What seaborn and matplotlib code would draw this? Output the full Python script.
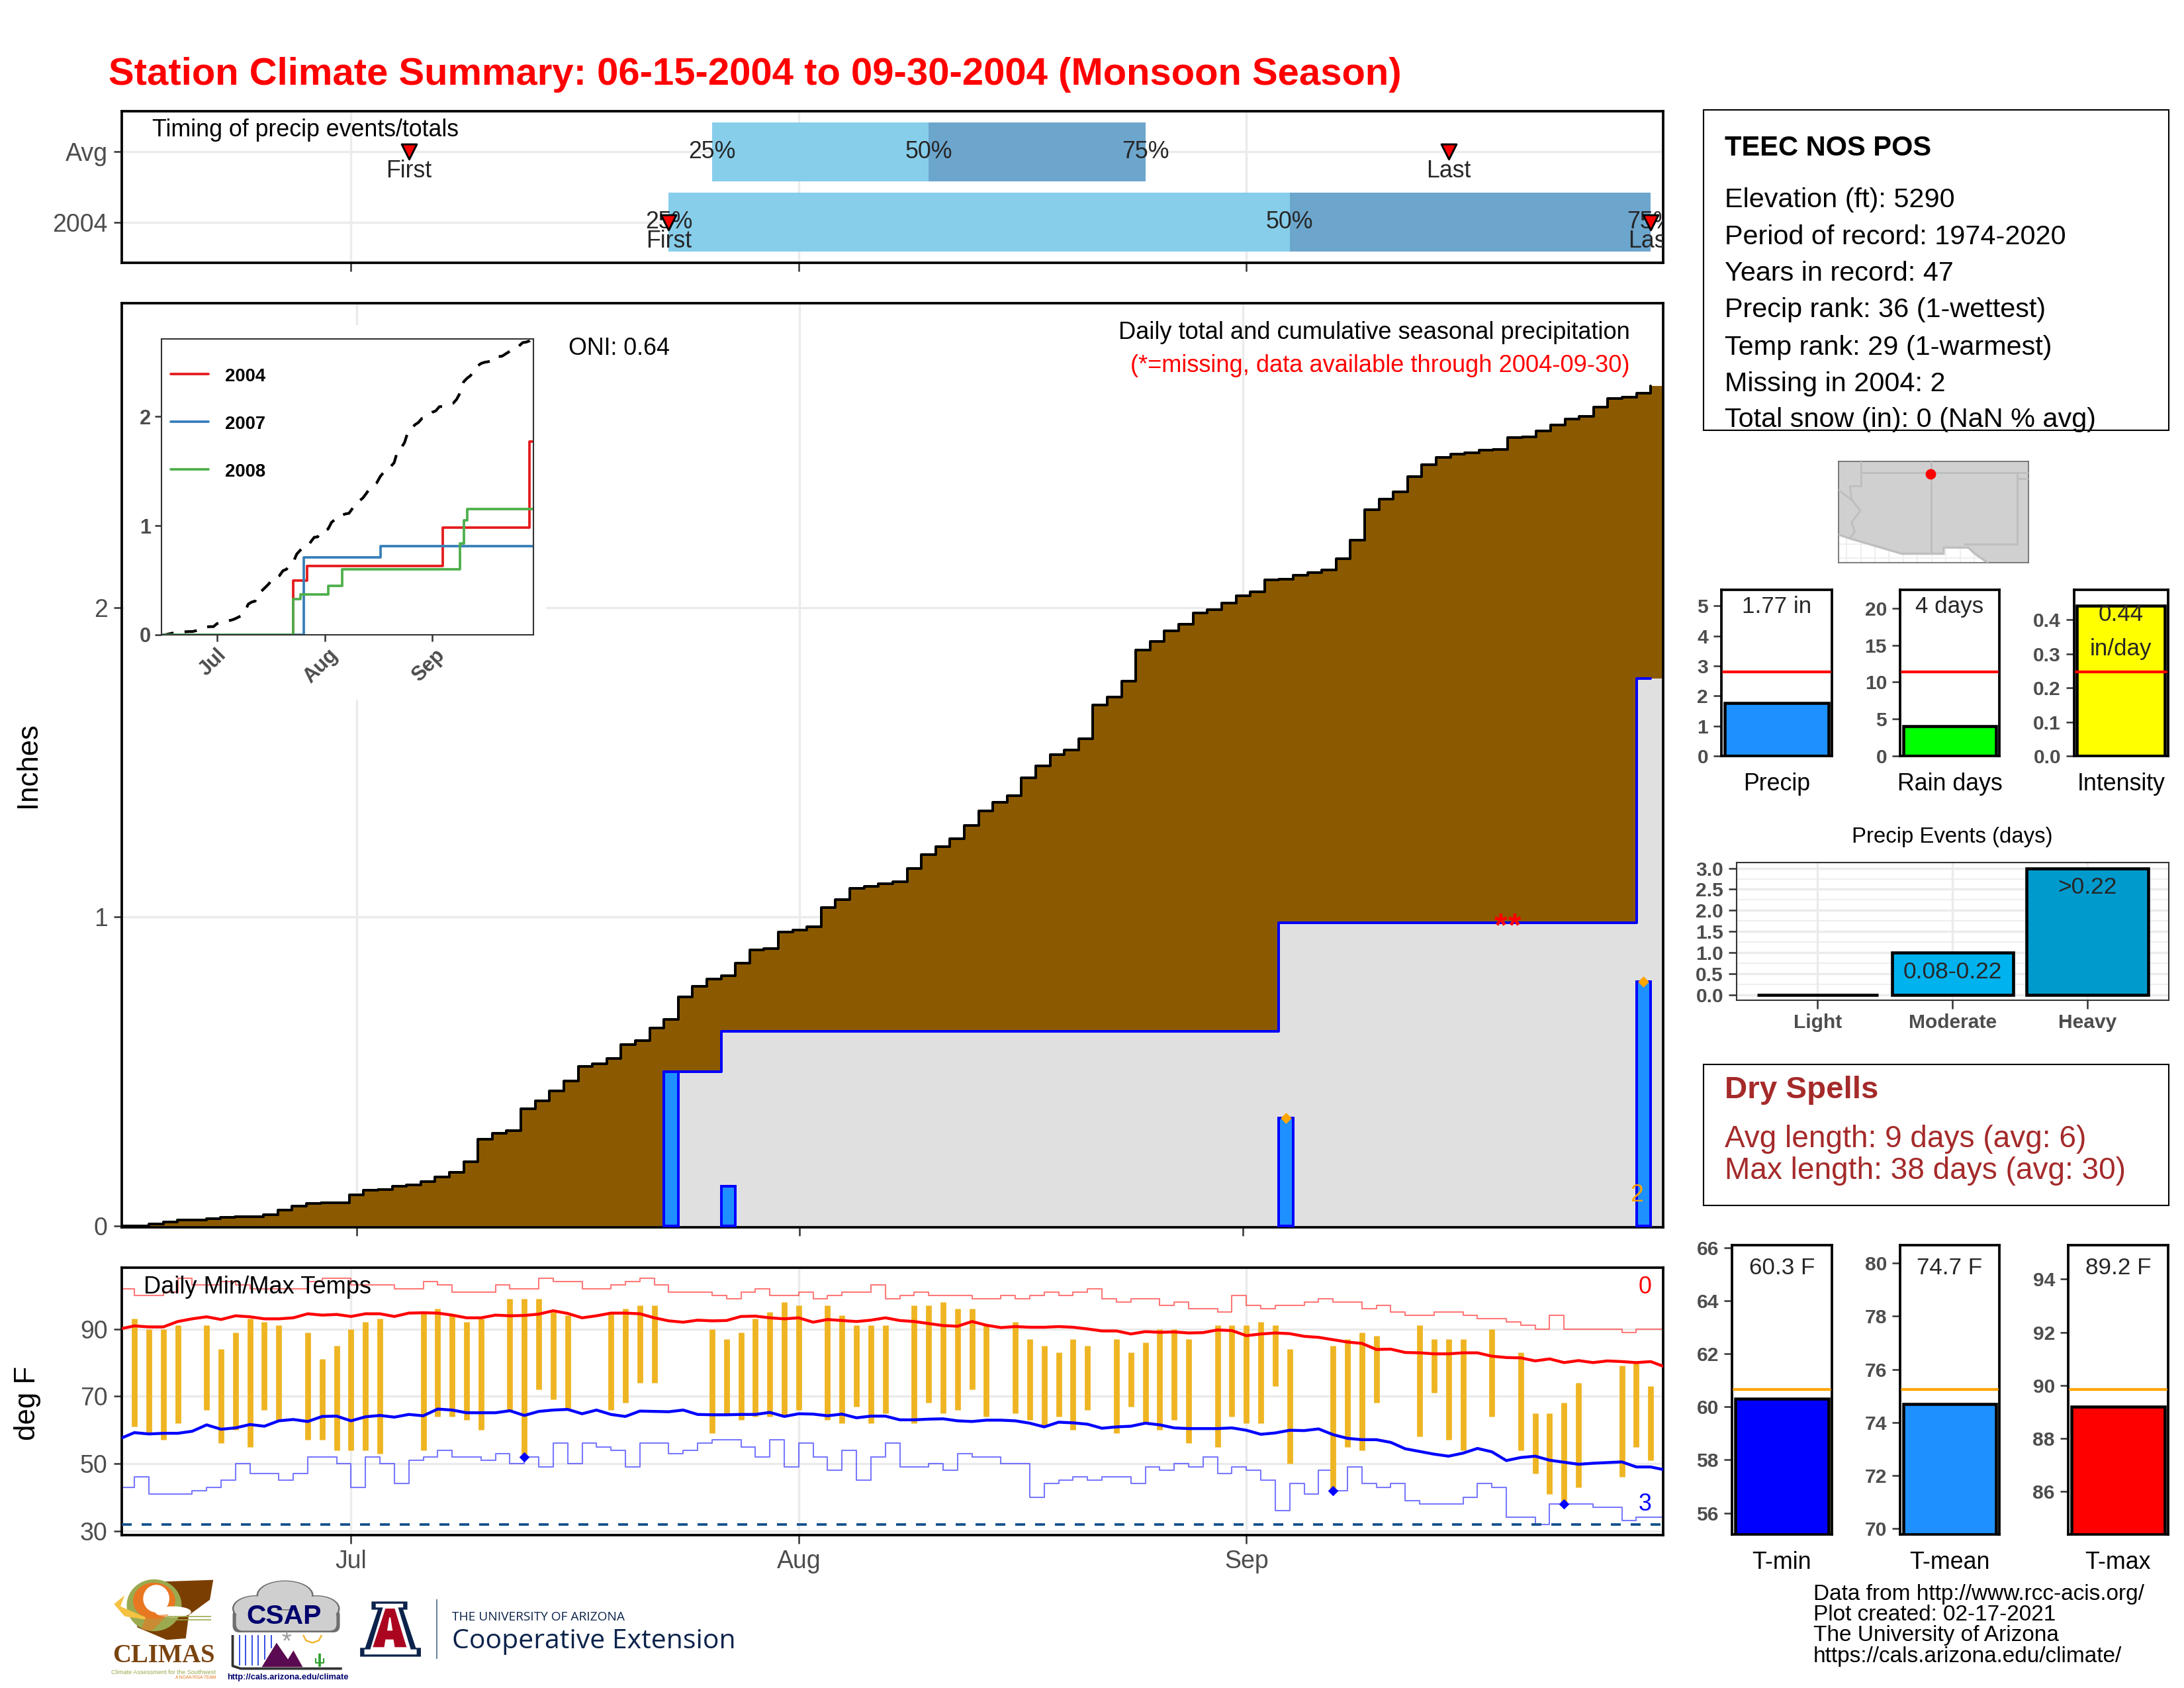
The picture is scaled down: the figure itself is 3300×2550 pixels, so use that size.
import numpy as np
import matplotlib
matplotlib.use('Agg')
import matplotlib.pyplot as plt
from matplotlib.patches import Ellipse, Polygon, Rectangle, FancyBboxPatch
from matplotlib.transforms import ScaledTranslation
import seaborn as sns

NA = float('nan')

# ---- season data (Jun 15 to Sep 30 2004, one value per day)
month_ticks = [16, 47, 78]
month_labels = ['Jul', 'Aug', 'Sep']

avg_cum_precip = [0, 0, .007, .014, .02, .021, .025, .028, .03, .03, .038, .051, .065, .073, .075, .075,
                  .102, .116, .118, .13, .133, .144, .159, .175, .208, .281, .30, .309, .38, .406, .437,
                  .469, .517, .525, .542, .587, .60, .641, .669, .741, .775, .80, .809, .851, .893, .897,
                  .951, .958, .969, 1.031, 1.056, 1.093, 1.098, 1.107, 1.113, 1.157, 1.201, 1.227, 1.253,
                  1.295, 1.342, 1.37, 1.392, 1.45, 1.488, 1.525, 1.54, 1.576, 1.686, 1.71, 1.761, 1.862,
                  1.89, 1.924, 1.945, 1.982, 1.993, 2.015, 2.039, 2.051, 2.089, 2.092, 2.104, 2.113, 2.121,
                  2.157, 2.217, 2.317, 2.35, 2.374, 2.424, 2.462, 2.485, 2.496, 2.501, 2.509, 2.51, 2.549,
                  2.551, 2.571, 2.591, 2.609, 2.619, 2.647, 2.676, 2.681, 2.692, 2.716]

rain_days = [38, 42, 81, 106]
rain_amounts = [.50, .13, .35, .79]
record_rain_days = [81, 106]
missing_days = [96, 97]

avg_tmax = [90.0, 90.9, 90.6, 90.6, 92.2, 93.0, 93.6, 92.8, 93.9, 93.6, 93.0, 93.0, 93.3, 94.5, 94.1, 94.3, 93.7, 94.5,
            94.5, 93.7, 94.7, 94.8, 94.7, 94.1, 93.3, 93.3, 94.1, 93.9, 94.0, 94.4, 95.4, 94.6, 93.3, 93.9, 94.7, 94.7,
            94.5, 93.3, 92.4, 92.0, 92.6, 92.4, 92.5, 93.7, 93.8, 93.3, 93.0, 93.3, 92.0, 92.8, 92.5, 92.2, 92.6, 93.3,
            92.5, 92.2, 91.6, 91.0, 90.8, 92.2, 91.1, 90.4, 90.7, 90.5, 90.5, 90.7, 90.5, 90.0, 89.4, 89.4, 88.5, 89.2,
            89.0, 89.1, 88.8, 88.9, 89.7, 89.5, 88.0, 88.5, 88.8, 88.6, 87.8, 87.5, 86.8, 86.1, 85.7, 83.9, 84.0, 83.0,
            82.9, 82.6, 82.6, 82.9, 82.9, 81.9, 81.5, 81.4, 80.5, 81.1, 80.0, 80.6, 80.0, 80.5, 80.3, 80.0, 80.3, 78.7]

avg_tmin = [57.4, 59.2, 58.8, 59.0, 59.0, 59.6, 61.5, 60.2, 60.6, 61.6, 61.1, 62.7, 63.1, 62.5, 64.0, 64.1, 62.7, 63.9,
            64.3, 63.8, 64.6, 64.2, 66.2, 65.9, 65.1, 65.1, 65.1, 65.7, 64.3, 65.5, 65.9, 66.1, 64.8, 65.9, 64.6, 64.0,
            65.6, 65.5, 65.4, 65.9, 64.6, 64.5, 64.5, 64.6, 64.6, 65.2, 64.0, 64.8, 64.7, 64.2, 64.7, 63.6, 64.1, 64.1,
            63.0, 63.0, 63.2, 63.3, 62.7, 62.5, 62.9, 62.9, 62.7, 62.0, 60.9, 62.3, 62.1, 61.7, 60.5, 60.9, 61.1, 62.0,
            61.5, 60.6, 60.4, 60.4, 60.4, 60.6, 59.9, 58.7, 59.1, 59.9, 59.8, 60.3, 58.6, 57.5, 57.1, 57.1, 56.3, 54.4,
            53.6, 52.8, 52.2, 53.1, 54.5, 53.5, 50.9, 51.8, 52.2, 51.0, 50.4, 49.8, 50.1, 50.3, 50.5, 49.0, 49.0, 48.1]

record_high = [102, 100, 100, 101, 105, 103, 103, 104, 103, 102, 102, 102, 102, 104, 105, 105, 103, 103,
               103, 102, 102, 104, 103, 101, 101, 101, 103, 102, 102, 105, 104, 104, 102, 102, 103, 104,
               105, 103, 101, 101, 101, 100, 99, 101, 102, 100, 100, 101, 99, 100, 101, 101, 103, 99,
               100, 101, 100, 100, 100, 99, 99, 100, 99, 100, 101, 100, 101, 102, 99, 98, 99, 99,
               97, 98, 96, 96, 95, 100, 97, 96, 97, 97, 98, 99, 98, 98, 96, 97, 95, 94,
               94, 95, 95, 94, 93, 93, 92, 91, 90, 94, 90, 90, 90, 90, 89, 90, 90, 90]

record_low = [43, 46, 41, 41, 41, 42, 43, 45, 50, 47, 47, 45, 47, 52, 52, 50, 43, 52,
              50, 44, 51, 52, 54, 52, 52, 51, 53, 50, 52, 49, 56, 50, 56, 55, 54, 49,
              56, 56, 53, 54, 56, 57, 57, 55, 52, 57, 49, 56, 52, 48, 54, 45, 52, 56,
              49, 49, 50, 48, 53, 52, 52, 50, 50, 40, 44, 45, 46, 45, 46, 46, 44, 49,
              48, 50, 49, 52, 47, 49, 48, 45, 36, 44, 41, 48, 42, 49, 44, 43, 44, 39,
              38, 38, 38, 40, 44, 43, 34, 34, 32, 38, 38, 38, 37, 37, 33, 34, 34, 34]

obs_high = [NA, 93, 90, 90, 91, NA, 91, 84, 89, 93, 92, 91, NA, 89, 81, 85, 90, 92,
            93, NA, NA, 95, 96, 94, 92, 93, NA, 99, 99, 99, 95, 94, NA, NA, 95, 96,
            97, 97, NA, NA, NA, 90, 87, 89, 93, 95, 98, 97, NA, 97, 94, 91, 91, 91,
            NA, 97, 97, 98, 96, 96, 91, NA, 92, 87, 85, 83, 87, 85, NA, 87, 83, 86,
            90, 90, 87, NA, 91, 91, 91, 92, 91, 84, NA, NA, 85, 87, 89, 88, NA, NA,
            91, 87, 87, 87, NA, 90, NA, 83, 65, 65, 68, 74, NA, NA, 79, 80, 73, NA]

obs_low = [NA, 61, 59, 57, 62, NA, 66, 56, 60, 55, 66, 63, NA, 57, 57, 54, 54, 54,
           53, NA, NA, 54, 64, 64, 63, 60, NA, 66, 52, 72, 69, 66, NA, NA, 66, 68,
           74, 74, NA, NA, NA, 59, 65, 63, 64, 64, 64, 66, NA, 63, 62, 67, 62, 65,
           NA, 62, 68, 65, 66, 72, 64, NA, 65, 63, 61, 64, 60, 66, NA, 59, 67, 62,
           60, 63, 56, NA, 55, 64, 62, 62, 73, 50, NA, NA, 42, 55, 54, 68, NA, NA,
           58, 71, 57, 54, NA, 64, NA, 54, 47, 41, 38, 43, NA, NA, 46, 55, 51, NA]

record_low_days = [28, 84, 100]
freeze_line = 32

# inset: other analog years as (day, running total)
year_2007_days = [0, 41, 63, 107]
year_2007_total = [0, .71, .81, .81]
year_2008_days = [0, 38, 40, 48, 52, 86, 87, 88, 107]
year_2008_total = [0, .327, .37, .447, .60, .834, 1.05, 1.154, 1.154]

# timing bars, as day index: [25%, 50%, 75%], first, last
timing_avg = [41, 56, 71]
timing_2004 = [38, 81, 106]
first_last_avg = [20, 92]
first_last_2004 = [38, 106]

# small summary bars
precip_value, precip_avg = 1.77, 2.8
raindays_value, raindays_avg = 4, 11.4
intensity_value, intensity_avg = .44, .246
event_names = ['Light', 'Moderate', 'Heavy']
event_counts = [0, 1, 3]
event_labels = ['', '0.08-0.22', '>0.22']
tmin_value, tmin_avg = 60.3, 60.66
tmean_value, tmean_avg = 74.7, 75.25
tmax_value, tmax_avg = 89.2, 89.85

# locator map outlines in lon/lat
land_lon = [-115.56, -114.76, -111.10, -108.18, -108.18, -106.42, -105.97, -105.05, -102.2, -102.2, -115.56]
land_lat = [32.67, 32.40, 31.33, 31.33, 31.76, 31.76, 31.33, 30.69, 30.69, 37.8, 37.8]
river_lon = [-113.96, -113.96, -114.76, -114.64, -114.03, -114.64, -114.42, -114.76]
river_lat = [37.8, 36.06, 36.06, 35.13, 34.33, 33.52, 32.86, 32.40]
station_lon, station_lat = -109.09, 36.92

info_lines = ['Elevation (ft): 5290', 'Period of record: 1974-2020', 'Years in record: 47',
              'Precip rank: 36 (1-wettest)', 'Temp rank: 29 (1-warmest)', 'Missing in 2004: 2',
              'Total snow (in): 0 (NaN % avg)']
credit_lines = ['Data from http://www.rcc-acis.org/', 'Plot created: 02-17-2021',
                'The University of Arizona', 'https://cals.arizona.edu/climate/']

# ---- setup
sns.set_theme(style='white')
plt.rcParams['font.family'] = ['Liberation Sans', 'DejaVu Sans']
plt.rcParams['axes.edgecolor'] = 'black'

W, H = 3300, 2550
fig = plt.figure(figsize=(11, 8.5), dpi=300, facecolor='white')
GRID = '#EBEBEB'
TICK = '#4D4D4D'


def panel(x0, y0, x1, y1, z=1, lw=.9, edge='black'):
    # axes from pixel box
    ax = fig.add_axes([x0 / W, 1 - y1 / H, (x1 - x0) / W, (y1 - y0) / H], zorder=z)
    for s in ax.spines.values():
        s.set_linewidth(lw)
        s.set_edgecolor(edge)
    ax.tick_params(axis='both', length=3, width=.6, color='#333333', labelcolor=TICK, pad=2.2, labelsize=9,
                   left=True, bottom=True)
    ax.set_axisbelow(True)
    return ax


x = np.arange(len(avg_cum_precip))
edges = np.arange(len(x) + 1) - .5
cum_2004 = np.zeros(len(x))
for d, a in zip(rain_days, rain_amounts):
    cum_2004[d:] += a

# ---- canvas in pixels for free text and logos
canvas = fig.add_axes([0, 0, 1, 1], zorder=10)
canvas.set_xlim(0, W)
canvas.set_ylim(H, 0)
canvas.axis('off')


def txt(px, py, s, size=8.6, color='black', ha='left', va='center', **kw):
    canvas.text(px, py + 3, s, fontsize=size, color=color, ha=ha, va=va, **kw)


txt(164, 110, 'Station Climate Summary: 06-15-2004 to 09-30-2004 (Monsoon Season)', size=13.92, color='red',
    fontweight='bold')

# ---- timing panel
ax = panel(184.4, 167.7, 2513, 397)
for row, q in [(1, timing_avg), (0, timing_2004)]:
    ax.barh(row, q[1] - q[0], left=q[0], height=.833, color='#87CEEB', lw=0)
    ax.barh(row, q[2] - q[1], left=q[1], height=.833, color='#6CA6CD', lw=0)
    for val, lab in zip(q, ['25%', '50%', '75%']):
        ax.text(val, row, lab, fontsize=8.6, ha='center', va='center', clip_on=True)
sns.scatterplot(x=first_last_avg + first_last_2004, y=[1, 1, 0, 0], marker='v', s=30, color='red',
                edgecolor='black', linewidth=.7, ax=ax, zorder=5, legend=False)
for row, fl in [(1, first_last_avg), (0, first_last_2004)]:
    ax.text(fl[0], row - .27, 'First', fontsize=8.6, ha='center', va='center', clip_on=True)
    ax.text(fl[1], row - .27, 'Last', fontsize=8.6, ha='center', va='center', clip_on=True)
ax.set_xlim(.143, 106.86)
ax.set_ylim(-.576, 1.579)
ax.set_yticks([0, 1], ['2004', 'Avg'])
ax.set_xticks(month_ticks, [])
ax.grid(True, color=GRID, lw=.8)
txt(229.6, 193, 'Timing of precip events/totals')

# ---- main precip panel
ax = panel(184.4, 458, 2513, 1854)
ax.stairs(avg_cum_precip, edges, fill=True, color='#8B5A00', zorder=2)
ax.stairs(cum_2004[38:], edges[38:], fill=True, color='#E0E0E0', zorder=2.1)
sns.lineplot(x=x - .5, y=avg_cum_precip, drawstyle='steps-post', color='black', lw=.95, ax=ax, zorder=3)
sns.lineplot(x=x[38:] - .5, y=cum_2004[38:], drawstyle='steps-post', color='blue', lw=.95, ax=ax, zorder=3.1)
ax.bar(rain_days, rain_amounts, width=1, color='#1E90FF', edgecolor='blue', lw=.95, zorder=3.2)
sns.scatterplot(x=record_rain_days, y=[rain_amounts[rain_days.index(d)] for d in record_rain_days], marker='D', s=7,
                color='orange', edgecolor='orange', ax=ax, zorder=4, legend=False)
for d in missing_days:
    ax.text(d, cum_2004[d] - .042, '*', color='red', fontsize=12, fontweight='bold', ha='center', va='baseline', zorder=4)
ax.text(106, .1, '2', color='orange', fontsize=8.6, ha='right', va='center', zorder=4)
ax.set_xlim(-.39, 107.37)
ax.set_ylim(-.0036, 2.984)
ax.set_yticks([0, 1, 2])
ax.set_xticks(month_ticks, [])
ax.grid(True, color=GRID, lw=.8)
ax.set_ylabel('')
txt(42, 1153, 'Inches', size=10.5, ha='center', rotation=90)
txt(2463, 499, 'Daily total and cumulative seasonal precipitation', size=8.7, ha='right')
txt(2463, 550, '(*=missing, data available through 2004-09-30)', size=8.7, color='red', ha='right')
txt(859, 523, 'ONI: 0.64', size=8.6)

# inset cumulative comparison
bg = panel(188, 491, 825, 1057, z=2)
bg.axis('off')
bg.add_patch(Rectangle((0, 0), 1, 1, transform=bg.transAxes, color='white'))
ins = panel(243.8, 512, 805.5, 959, z=3, lw=.5, edge='#333333')
sns.lineplot(x=x, y=avg_cum_precip, color='black', lw=1, linestyle=(0, (4.5, 4)), ax=ins)
sns.lineplot(x=x, y=cum_2004, drawstyle='steps-post', color='#E41A1C', lw=.9, ax=ins)
sns.lineplot(x=year_2007_days, y=year_2007_total, drawstyle='steps-post', color='#377EB8', lw=.9, ax=ins)
sns.lineplot(x=year_2008_days, y=year_2008_total, drawstyle='steps-post', color='#4DAF4A', lw=.9, ax=ins)
ins.set_xlim(0, 107)
ins.set_ylim(0, 2.71)
ins.set_yticks([0, 1, 2])
ins.set_xticks(month_ticks, month_labels)
ins.tick_params(labelsize=7.4, length=2.3, pad=1.5)
for t in ins.get_xticklabels():
    t.set_rotation(45)
    t.set_fontweight('bold')
    t.set_transform(t.get_transform() + ScaledTranslation(-6 / 300, 0, fig.dpi_scale_trans))
for t in ins.get_yticklabels():
    t.set_fontweight('bold')
for py, yr, col in [(564.7, '2004', '#E41A1C'), (636.6, '2007', '#377EB8'), (709, '2008', '#4DAF4A')]:
    canvas.plot([257.7, 315], [py, py], color=col, lw=.9)
    txt(340.4, py + 1, yr, size=6.6, fontweight='bold')

# ---- temperature panel
ax = panel(184.4, 1915, 2513, 2319)
sns.lineplot(x=x, y=record_high, drawstyle='steps-post', color='#FF4040', lw=.5, alpha=.7, ax=ax, zorder=2)
sns.lineplot(x=x, y=record_low, drawstyle='steps-post', color='#4040FF', lw=.5, alpha=.7, ax=ax, zorder=2)
ax.vlines(x, obs_low, obs_high, color='#EEB422', lw=2.1, zorder=2.5)
sns.lineplot(x=x, y=avg_tmax, color='red', lw=1.05, ax=ax, zorder=3)
sns.lineplot(x=x, y=avg_tmin, color='blue', lw=1.05, ax=ax, zorder=3)
ax.axhline(freeze_line, color='#104E8B', lw=.9, ls=(0, (4, 4)), zorder=3)
sns.scatterplot(x=record_low_days, y=[record_low[d] for d in record_low_days], marker='D', s=6, color='blue',
                edgecolor='blue', ax=ax, zorder=4, legend=False)
ax.set_xlim(.143, 106.86)
ax.set_ylim(28.76, 108.2)
ax.set_yticks([30, 50, 70, 90])
ax.set_xticks(month_ticks, month_labels)
ax.grid(True, color=GRID, lw=.8)
txt(42, 2117, 'deg F', size=10.5, ha='center', rotation=90)
txt(217, 1942, 'Daily Min/Max Temps', size=8.7)
txt(2486, 1941, '0', size=8.6, color='red', ha='center')
txt(2486, 2270, '3', size=8.6, color='blue', ha='center')

# ---- info box
canvas.add_patch(Rectangle((2574, 166), 703, 484, fill=False, edgecolor='black', lw=.5))
txt(2606, 221, 'TEEC NOS POS', size=10, fontweight='bold')
for py, s in zip([299, 355, 410, 465, 522, 577, 631], info_lines):
    txt(2606, py, s, size=9.95)

# ---- locator map
ax = panel(2778, 697, 3065, 850, lw=.4, edge='#666666')
ax.set_facecolor('white')
ax.grid(True, color='#EFEFEF', lw=.5)
ax.set_xticks(np.arange(-115, -102, 1), [])
ax.set_yticks(np.arange(31, 38, 1), [])
ax.tick_params(length=0)
ax.fill(land_lon, land_lat, color='#D0D0D0', zorder=2)
ax.plot(land_lon[:8], land_lat[:8], color='#BEBEBE', lw=.7, zorder=3)
ax.plot(river_lon, river_lat, color='#BEBEBE', lw=.7, zorder=3)
ax.plot([-115.56, -114.53], [35.8, 35.0], color='#BEBEBE', lw=.7, zorder=3)
ax.plot([-113.96, -102.2], [37, 37], color='#BEBEBE', lw=.7, zorder=3)
ax.plot([-109.05, -109.05], [37.8, 31.33], color='#BEBEBE', lw=.7, zorder=3)
ax.plot([-103, -103, -106.7], [37, 32, 32], color='#BEBEBE', lw=.7, zorder=3)
ax.plot([-103, -102.2], [36.6, 36.6], color='#BEBEBE', lw=.7, zorder=3)
ax.plot(station_lon, station_lat, 'o', color='red', ms=2.8, zorder=4)
ax.set_xlim(-115.56, -102.2)
ax.set_ylim(30.69, 37.8)


def summary_bar(box, name, value, avg, color, ylim, ticks, ticklabels, line, label, label_y, text_y=None):
    ax = panel(*box)
    sns.barplot(x=[name], y=[value], color=color, saturation=1, edgecolor='black', linewidth=1.1, width=.9, ax=ax)
    ax.axhline(avg, color=line, lw=1, xmin=.02, xmax=.98, zorder=5)
    ax.set_xlim(-.48, .48)
    ax.set_ylim(*ylim)
    ax.set_xticks([])
    ax.set_yticks(ticks, ticklabels)
    ax.tick_params(labelsize=7.2, pad=1.8)
    for t in ax.get_yticklabels():
        t.set_fontweight('bold')
    ax.set_ylabel('')
    txt((box[0] + box[2]) / 2, label_y, name, size=8.6, ha='center')
    ax.text(.5, text_y, label, transform=ax.transAxes, fontsize=8.4, ha='center', va='center', zorder=6)
    return ax


summary_bar((2601, 891, 2768, 1142), 'Precip', precip_value, precip_avg, '#1E90FF', (0, 5.54), [0, 1, 2, 3, 4, 5],
            ['0', '1', '2', '3', '4', '5'], 'red', '1.77 in', 1181, .90)
summary_bar((2871, 891, 3021, 1142), 'Rain days', raindays_value, raindays_avg, '#00FF00', (0, 22.5), [0, 5, 10, 15, 20],
            ['0', '5', '10', '15', '20'], 'red', '4 days', 1181, .90)
ax = summary_bar((3134, 891, 3275.6, 1142), 'Intensity', intensity_value, intensity_avg, '#FFFF00', (0, .4875),
                 [0, .1, .2, .3, .4], ['0.0', '0.1', '0.2', '0.3', '0.4'], 'red', '0.44', 1181, .85)
ax.text(.5, .645, 'in/day', transform=ax.transAxes, fontsize=8.4, ha='center', va='center', zorder=6)

# ---- precip events
ax = panel(2624, 1303, 3276.6, 1510.6, lw=.5, edge='#333333')
sns.barplot(x=event_names, y=event_counts, hue=event_names, palette=['#000000', '#00B2EE', '#009ACD'], saturation=1,
            edgecolor='black', linewidth=1.1, width=.9, legend=False, ax=ax)
for i, lab in enumerate(event_labels):
    if lab:
        ax.text(i, event_counts[i] - .46, lab, fontsize=8.5, ha='center', va='center')
ax.set_xlim(-.6, 2.6)
ax.set_ylim(-.126, 3.135)
ax.set_yticks(np.arange(0, 3.5, .5), ['0.0', '0.5', '1.0', '1.5', '2.0', '2.5', '3.0'])
ax.set_yticks(np.arange(.25, 3, .5), minor=True)
ax.tick_params(labelsize=7.2, pad=1.8)
ax.tick_params(which='minor', length=0)
for t in ax.get_yticklabels() + ax.get_xticklabels():
    t.set_fontweight('bold')
ax.grid(True, color=GRID, lw=.8)
ax.grid(True, which='minor', color=GRID, lw=.4)
ax.set_ylabel('')
txt(2950, 1261, 'Precip Events (days)', size=7.9, ha='center')

# ---- dry spells box
canvas.add_patch(Rectangle((2574, 1608), 703, 213, fill=False, edgecolor='black', lw=.5))
txt(2606, 1644, 'Dry Spells', size=11.4, color='#A52A2A', fontweight='bold')
txt(2606, 1718, 'Avg length: 9 days (avg: 6)', size=11.05, color='#A52A2A')
txt(2606, 1766, 'Max length: 38 days (avg: 30)', size=11.05, color='#A52A2A')

# ---- temperature bars
summary_bar((2617, 1881, 2768, 2318), 'T-min', tmin_value, tmin_avg, 'blue', (55.19, 66.09), np.arange(56, 67, 2),
            [str(v) for v in range(56, 67, 2)], 'orange', '60.3 F', 2357, .92)
summary_bar((2871, 1881, 3021, 2318), 'T-mean', tmean_value, tmean_avg, '#1E90FF', (69.78, 80.68), np.arange(70, 81, 2),
            [str(v) for v in range(70, 81, 2)], 'orange', '74.7 F', 2357, .92)
summary_bar((3125, 1881, 3275.6, 2318), 'T-max', tmax_value, tmax_avg, 'red', (84.38, 95.28), np.arange(86, 95, 2),
            [str(v) for v in range(86, 95, 2)], 'orange', '89.2 F', 2357, .92)

for py, s in zip([2406, 2437, 2468, 2500], credit_lines):
    txt(2740, py, s, size=8)


# ---- logos, shapes traced in a local frame
def lp(pts):
    return [(150 + a / 1.568, 2330 + b / 3) for a, b in pts]


def ell(cx, cy, w, h, color):
    canvas.add_patch(Ellipse((150 + cx / 1.568, 2330 + cy / 3), w / 1.568, h / 3, color=color, lw=0))


def poly(pts, color, **kw):
    canvas.add_patch(Polygon(lp(pts), closed=True, color=color, lw=kw.pop('lw', 0), **kw))


def seg(pts, color, lw=.5):
    p = lp(pts)
    canvas.plot([a for a, b in p], [b for a, b in p], color=color, lw=lw, solid_capstyle='butt')


# CLIMAS
poly([(120, 180), (270, 170), (262, 260), (212, 330), (205, 435), (160, 442), (90, 385), (85, 300)], '#7A3F00')
ell(130, 285, 130, 235, '#9BAA4F')
ell(130, 265, 100, 165, '#E87722')
ell(135, 255, 62, 125, 'white')
ell(175, 315, 85, 50, 'white')
poly([(35, 280), (60, 240), (50, 290), (110, 340), (110, 350), (60, 335)], '#F5C242')
poly([(110, 335), (165, 325), (125, 400), (100, 395)], '#E87722', alpha=.6)
seg([(160, 335), (265, 335)], '#9BAA4F', .4)
seg([(160, 350), (265, 350)], '#9BAA4F', .4)
canvas.text(150 + 152 / 1.568, 2330 + 515 / 3, 'CLIMAS', fontsize=9.3, color='#7A4410', family='Liberation Serif',
            fontweight='bold', ha='center', va='center')
txt(150 + 152 / 1.568, 2330 + 580 / 3, 'Climate Assessment for the Southwest', size=2.2, color='#9BAA4F', ha='center')
txt(150 + 228 / 1.568, 2330 + 605 / 3, 'A NOAA RISA TEAM', size=1.6, color='#E87722', ha='center')

# CSAP
for c, g in [('#6E6E6E', 0), ('#CFCFCF', 8)]:
    ell(440, 240, 135 - g, 135 - g, c)
    ell(370, 300, 110 - g, 120 - g, c)
    ell(515, 300, 110 - g, 120 - g, c)
    canvas.add_patch(FancyBboxPatch((150 + (316 + g) / 1.568, 2330 + (300 + g) / 3), (254 - 2 * g) / 1.568,
                                    (108 - 2 * g) / 3, boxstyle='round,pad=0,rounding_size=10', color=c, lw=0))
canvas.text(150 + 437 / 1.568, 2330 + 335 / 3, 'CSAP', fontsize=9.8, color='#00006E', fontweight='bold', ha='center',
            va='center')
seg([(316, 420), (316, 560), (335, 572), (575, 572)], '#333333', .9)
for bx, by in [(332, 558), (347, 558), (362, 558), (377, 558), (392, 530), (407, 480)]:
    seg([(bx, 420), (bx, by)], '#1030E0', .4)
poly([(385, 565), (420, 455), (447, 530), (460, 490), (482, 565)], '#5A0A50', ec='#1E7A1E')
seg([(522, 505), (522, 565)], '#2FA02F', .9)
seg([(512, 525), (512, 545), (532, 545), (532, 525)], '#2FA02F', .5)
txt(150 + 443 / 1.568, 2330 + 445 / 3, '*', size=9, color='#9A9A9A', ha='center')
seg([(483, 420), (490, 445), (505, 455), (520, 445), (527, 420)], '#F2B632', .6)
txt(150 + 447 / 1.568, 2330 + 602 / 3, 'http://cals.arizona.edu/climate', size=3.1, color='#00006E', ha='center',
    fontweight='bold')

# University of Arizona
UA = '#0C234B'
poly([(645, 268), (730, 268), (730, 305), (720, 305), (750, 478), (762, 478), (762, 518), (618, 518), (618, 478),
      (630, 478), (660, 305), (645, 305)], UA)
poly([(655, 278), (720, 278), (720, 295), (708, 295), (738, 485), (752, 485), (752, 508), (628, 508), (628, 485),
      (642, 485), (672, 295), (655, 295)], 'white')
poly([(678, 300), (700, 300), (728, 475), (700, 475), (697, 440), (678, 440), (675, 475), (648, 475)], '#AB0520')
poly([(682, 400), (695, 400), (690, 340), (687, 340)], 'white')
seg([(800, 258), (800, 528)], '#4A6A8A', .4)
canvas.text(150 + 835 / 1.568, 2330 + 340 / 3, 'THE UNIVERSITY OF ARIZONA', fontsize=4.6, color=UA, ha='left',
            va='center', family='Open Sans')
canvas.text(150 + 835 / 1.568, 2330 + 450 / 3, 'Cooperative Extension', fontsize=9.85, color=UA, ha='left', va='center',
            family='Open Sans')

canvas.set_xlim(0, W)
canvas.set_ylim(H, 0)
fig.savefig('out.png', dpi=300)
